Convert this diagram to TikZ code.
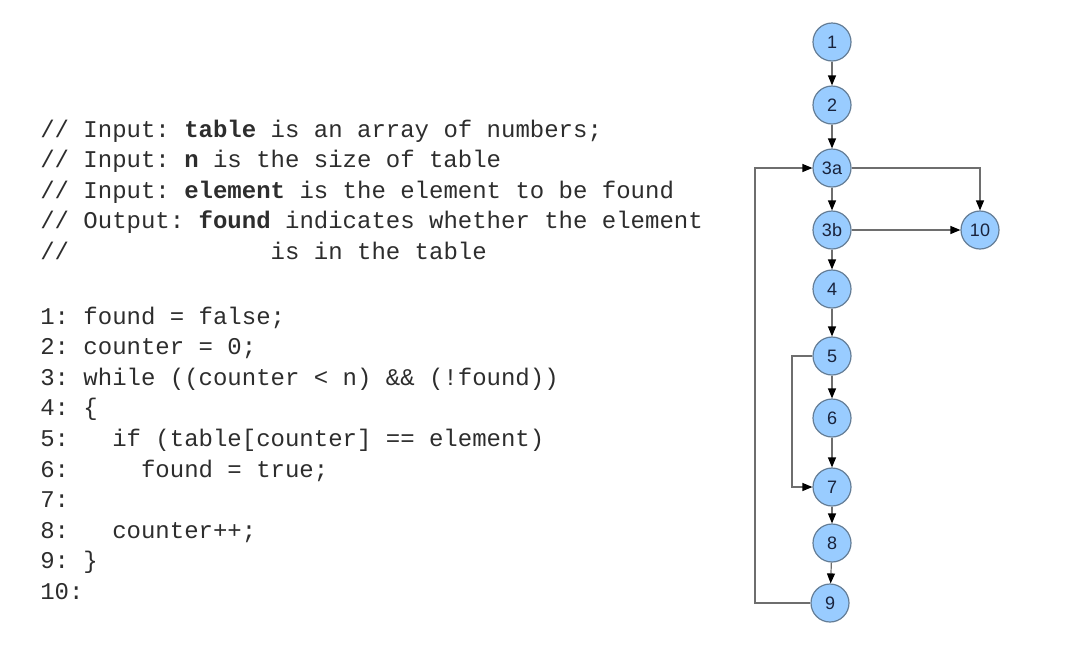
\documentclass[tikz,border=0pt]{standalone}
\usepackage{fontspec}
\setmainfont{Liberation Sans}
\setsansfont{Liberation Sans}
\setmonofont{Liberation Mono}
\usetikzlibrary{arrows.meta}
\definecolor{nodefill}{RGB}{153,204,255}
\definecolor{nodedraw}{RGB}{100,125,150}
\definecolor{edgecol}{RGB}{110,110,110}
\definecolor{labcol}{RGB}{25,35,60}
\definecolor{codecol}{RGB}{45,45,45}
\tikzset{
  cfgnode/.style={circle, draw=nodedraw, fill=nodefill, line width=0.9pt, minimum size=28.5pt, inner sep=0pt, font=\sffamily\fontsize{13.5}{13.5}\selectfont, text=labcol},
  edge/.style={draw=edgecol, line width=0.9pt, -{Triangle[length=7.5pt,width=6pt,fill=black,color=black]}},
  codeline/.style={anchor=base west, inner sep=0pt, font=\ttfamily\fontsize{18}{18}\selectfont, text=codecol}
}
\begin{document}
\begin{tikzpicture}[x=0.75pt,y=-0.75pt]
\useasboundingbox (0,0) rectangle (1065,654);
% header comment
\node[codeline] (h1) at (40,137.0) {//~Input:~\textbf{table}~is~an~array~of~numbers;};
\node[codeline] (h2) at (40,167.6) {//~Input:~\textbf{n}~is~the~size~of~table};
\node[codeline] (h3) at (40,198.2) {//~Input:~\textbf{element}~is~the~element~to~be~found};
\node[codeline] (h4) at (40,228.8) {//~Output:~\textbf{found}~indicates~whether~the~element};
\node[codeline] (h5) at (40,259.4) {//~~~~~~~~~~~~~~is~in~the~table};
% code
\node[codeline] (c1) at (40,324.0) {1:~found~=~false;};
\node[codeline] (c2) at (40,354.6) {2:~counter~=~0;};
\node[codeline] (c3) at (40,385.2) {3:~while~((counter~<~n)~\&\&~(!found))};
\node[codeline] (c4) at (40,415.8) {4:~\{};
\node[codeline] (c5) at (40,446.4) {5:~~~if~(table[counter]~==~element)};
\node[codeline] (c6) at (40,477.0) {6:~~~~~found~=~true;};
\node[codeline] (c7) at (40,507.6) {7:};
\node[codeline] (c8) at (40,538.2) {8:~~~counter++;};
\node[codeline] (c9) at (40,568.8) {9:~\}};
\node[codeline] (c10) at (40,599.4) {10:};
% graph nodes
\node[cfgnode] (n1) at (832,42) {1};
\node[cfgnode] (n2) at (832,105) {2};
\node[cfgnode] (n3a) at (832,168) {3a};
\node[cfgnode] (n3b) at (832,230) {3b};
\node[cfgnode] (n4) at (832,289) {4};
\node[cfgnode] (n5) at (832,356) {5};
\node[cfgnode] (n6) at (832,418) {6};
\node[cfgnode] (n7) at (832,487) {7};
\node[cfgnode] (n8) at (832,543) {8};
\node[cfgnode] (n9) at (830,603) {9};
\node[cfgnode] (n10) at (980,230) {10};
\coordinate (back) at (755,0);
\coordinate (skip) at (792,0);
% edges
\draw[edge] (n1) -- (n2);
\draw[edge] (n2) -- (n3a);
\draw[edge] (n3a) -- (n3b);
\draw[edge] (n3b) -- (n4);
\draw[edge] (n4) -- (n5);
\draw[edge] (n5) -- (n6);
\draw[edge] (n6) -- (n7);
\draw[edge] (n7) -- (n8);
\draw[edge] (n8) -- (n9);
\draw[edge] (n3a.east) -| (n10.north);
\draw[edge] (n3b) -- (n10);
\draw[edge] (n5.west) -- (n5.west -| skip) |- (n7.west);
\draw[edge] (n9.west) -- (n9.west -| back) |- (n3a.west);
\end{tikzpicture}
\end{document}
